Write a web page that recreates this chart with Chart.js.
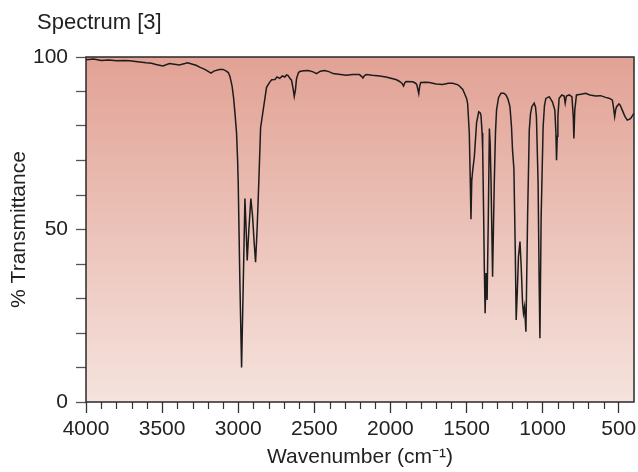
<!DOCTYPE html>
<html>
<head>
<meta charset="utf-8">
<script src="https://cdn.jsdelivr.net/npm/chart.js@4"></script>
<style>
  body { margin: 0; background: #fff; }
</style>
</head>
<body>
<canvas id="spectrum" width="638" height="472"></canvas>
<script>
// spectrum, high wavenumber first
const wavenumbers = [
  4000, 3950, 3900, 3850, 3800, 3750, 3714, 3660, 3605, 3570, 3540, 3495, 3452, 3420, 3387, 3332, 3300, 3277, 3250, 3223,
  3200, 3179, 3160, 3124, 3100, 3081, 3065, 3054, 3040, 3030, 3020, 3011, 3004, 3000, 2989, 2978, 2967, 2956, 2948, 2941,
  2930, 2917, 2906, 2895, 2886, 2876, 2869, 2860, 2853, 2836, 2814, 2792, 2780, 2759, 2745, 2727, 2710, 2694, 2683, 2672,
  2661, 2650, 2640, 2632, 2624, 2617, 2605, 2596, 2570, 2540, 2508, 2486, 2460, 2432, 2400, 2377, 2340, 2290, 2250, 2203,
  2190, 2181, 2170, 2159, 2120, 2071, 2030, 1984, 1960, 1940, 1925, 1914, 1905, 1896, 1853, 1835, 1827, 1814, 1808, 1801,
  1770, 1744, 1700, 1657, 1620, 1591, 1560, 1547, 1525, 1514, 1500, 1493, 1482, 1476, 1471, 1466, 1460, 1449, 1440, 1434,
  1420, 1410, 1405, 1398, 1394, 1388, 1383, 1378, 1372, 1365, 1357, 1350, 1345, 1339, 1329, 1318, 1310, 1303, 1290, 1274,
  1255, 1241, 1228, 1215, 1205, 1198, 1189, 1180, 1174, 1167, 1159, 1149, 1141, 1132, 1126, 1119, 1110, 1099, 1088, 1080,
  1071, 1056, 1047, 1041, 1030, 1023, 1018, 1010, 997, 988, 979, 957, 936, 920, 913, 909, 904, 900, 892, 874,
  859, 852, 844, 826, 808, 799, 795, 789, 778, 750, 717, 690, 652, 620, 586, 560, 542, 535, 527, 520,
  514, 499, 490, 477, 460, 444, 432, 422, 410, 400
];
const transmittance = [
  99.2, 99.4, 99.0, 99.1, 98.9, 99.0, 98.9, 98.6, 98.3, 98.2, 97.8, 97.4, 98.1, 97.9, 97.7, 98.3, 97.9, 97.6, 97.0, 96.5,
  95.9, 95.3, 95.9, 96.4, 96.4, 96.0, 95.5, 94.3, 91.5, 88.0, 83.0, 78.0, 70.0, 63.5, 34.5, 10.0, 34.0, 59.0, 50.0, 41.0,
  50.0, 59.0, 54.0, 46.0, 40.5, 50.0, 58.5, 70.0, 79.5, 84.6, 91.2, 92.8, 93.4, 93.5, 94.2, 93.8, 94.5, 94.2, 94.8, 94.6,
  93.8, 93.3, 91.0, 88.6, 90.5, 93.7, 95.4, 95.8, 96.0, 96.1, 95.7, 95.2, 95.9, 96.1, 95.7, 95.2, 95.0, 94.7, 94.9, 94.9,
  94.4, 93.9, 94.6, 94.9, 94.7, 94.5, 94.2, 93.7, 93.4, 92.9, 92.4, 91.6, 92.6, 92.9, 92.8, 92.4, 92.0, 89.4, 91.5, 92.6,
  92.7, 92.6, 92.2, 92.0, 92.4, 92.4, 92.0, 91.6, 90.6, 89.5, 88.0, 86.5, 78.0, 65.0, 53.0, 64.0, 67.0, 71.0, 77.0, 81.0,
  84.1, 83.8, 83.0, 78.0, 73.0, 55.0, 38.0, 25.7, 37.4, 29.6, 53.7, 79.3, 75.0, 63.4, 36.3, 63.4, 78.0, 84.6, 88.2, 89.5,
  89.5, 89.0, 87.8, 85.6, 80.0, 73.0, 67.7, 44.0, 23.8, 31.5, 42.1, 46.5, 39.2, 28.6, 25.7, 27.6, 20.4, 53.7, 78.8, 83.5,
  85.6, 86.6, 85.5, 82.7, 63.4, 34.4, 18.5, 53.7, 79.8, 86.0, 88.0, 88.5, 87.0, 84.6, 78.0, 70.1, 77.0, 82.7, 88.0, 89.0,
  88.7, 86.6, 88.7, 89.0, 88.5, 82.7, 76.4, 84.6, 89.0, 89.2, 89.5, 89.0, 88.7, 88.8, 88.3, 88.0, 87.5, 85.5, 82.7, 84.8,
  85.6, 86.4, 86.0, 84.6, 82.8, 81.7, 81.9, 82.2, 83.0, 83.7
];
const yLabelled = [0, 50, 100];
const xLabelEvery = 500;

const font = { family: "'Liberation Sans', Arial, sans-serif", size: 21 };
const textColor = '#222';

const backdrop = {
  id: 'backdrop',
  beforeDraw(chart) {
    const { ctx, chartArea: a } = chart;
    const g = ctx.createLinearGradient(0, a.top, 0, a.bottom);
    g.addColorStop(0, '#e2a295');
    g.addColorStop(1, '#f5e3dd');
    ctx.save();
    ctx.fillStyle = g;
    ctx.fillRect(a.left, a.top, a.right - a.left, a.bottom - a.top);
    ctx.fillStyle = textColor;
    ctx.font = "22px 'Liberation Sans', Arial, sans-serif";
    ctx.textBaseline = 'alphabetic';
    ctx.fillText('Spectrum [3]', 37, 29);
    ctx.restore();
  },
  afterDraw(chart) {
    const { ctx, chartArea: a, scales: { x } } = chart;
    ctx.save();
    // short minor ticks on the wavenumber axis
    ctx.strokeStyle = '#333';
    ctx.lineWidth = 1.2;
    x.ticks.forEach(t => {
      if (t.value % xLabelEvery !== 0 && t.value > x.min) {
        const px = Math.round(x.getPixelForValue(t.value)) + 0.5;
        ctx.beginPath();
        ctx.moveTo(px, a.bottom);
        ctx.lineTo(px, a.bottom + 7);
        ctx.stroke();
      }
    });
    ctx.strokeStyle = '#2a2a2a';
    ctx.lineWidth = 1.5;
    ctx.strokeRect(a.left, a.top, a.right - a.left, a.bottom - a.top);
    ctx.restore();
  }
};

new Chart(document.getElementById('spectrum'), {
  type: 'line',
  data: {
    datasets: [{
      data: wavenumbers.map((w, i) => ({ x: w, y: transmittance[i] })),
      borderColor: '#1c1c1c',
      borderWidth: 1.5,
      pointRadius: 0,
      tension: 0,
      fill: false
    }]
  },
  options: {
    responsive: false,
    animation: false,
    layout: { padding: { top: 57, right: 4, bottom: 0, left: 0 } },
    plugins: { legend: { display: false }, tooltip: { enabled: false } },
    scales: {
      x: {
        type: 'linear',
        reverse: true,
        min: 400,
        max: 4000,
        afterFit: s => { s.height = 70; },
        ticks: {
          stepSize: 100,
          autoSkip: false,
          maxRotation: 0,
          padding: 4,
          color: textColor,
          font,
          callback: v => (v % xLabelEvery === 0 ? String(v) : '')
        },
        grid: {
          drawOnChartArea: false,
          tickLength: 11,
          tickWidth: 1.3,
          tickColor: c => (c.tick && c.tick.value % xLabelEvery === 0 && c.tick.value > 400 ? '#333' : 'rgba(0,0,0,0)')
        },
        border: { display: false },
        title: {
          display: true,
          text: 'Wavenumber (cm⁻¹)',
          color: textColor,
          font,
          padding: { top: 0, bottom: 2 }
        }
      },
      y: {
        min: 0,
        max: 100,
        afterFit: s => { s.width = 86; },
        ticks: {
          stepSize: 10,
          autoSkip: false,
          padding: 8,
          color: textColor,
          font,
          callback: v => (yLabelled.includes(v) ? String(v) : '')
        },
        grid: { drawOnChartArea: false, tickLength: 10, tickWidth: 1.3, tickColor: '#555' },
        border: { display: false },
        title: {
          display: true,
          text: '% Transmittance',
          color: textColor,
          font,
          padding: { top: 7, bottom: 0 }
        }
      }
    }
  },
  plugins: [backdrop]
});
</script>
</body>
</html>
